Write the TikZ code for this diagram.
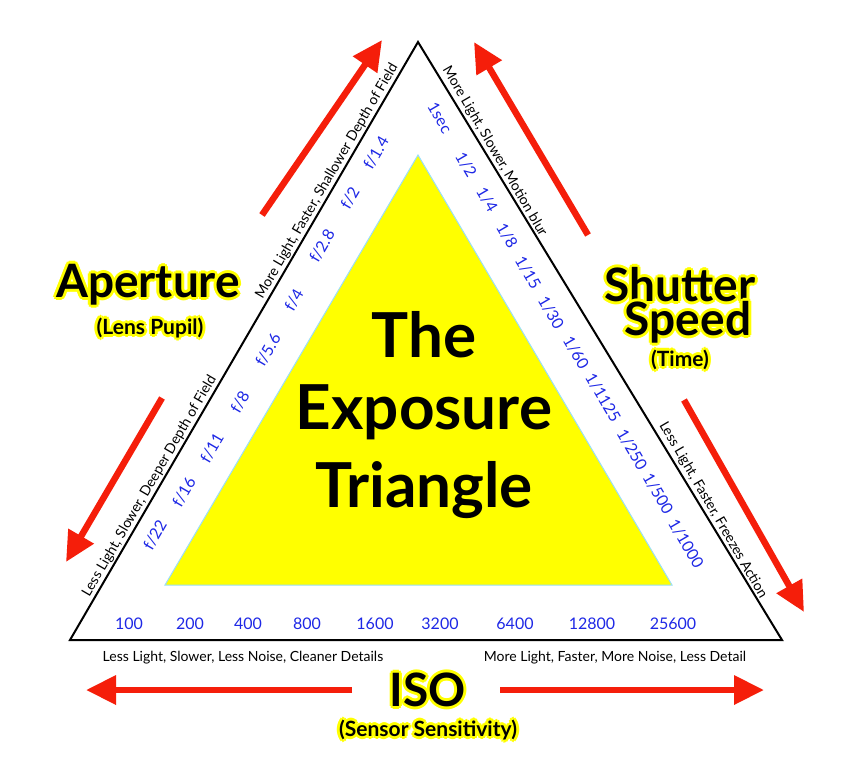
\documentclass[tikz,border=0pt]{standalone}
\usepackage{fontspec}
\setmainfont{Lato}
\usetikzlibrary{arrows.meta,calc}
\definecolor{tblue}{RGB}{30,40,230}
\definecolor{tyel}{RGB}{255,255,0}
\definecolor{tred}{RGB}{245,30,10}
\tikzset{
 side/.style={font=\fontsize{14}{14}\selectfont,inner sep=2pt},
 num/.style={text=tblue,font=\fontsize{16}{16}\selectfont},
 redarrow/.style={draw=tred,line width=6.5pt,-{Triangle[length=30pt,width=28pt]}},
}
\newcommand{\glowtext}[4]{% pos, name, size, text
 \foreach \dx/\dy in {-3/0,3/0,0/-3,0/3,-2/-2,2/2,-2/2,2/-2}
   \node[text=tyel,font=\bfseries\fontsize{#3}{#3}\selectfont] at ([shift={(\dx,\dy)}]#1) {#4};
 \node[font=\bfseries\fontsize{#3}{#3}\selectfont] (#2) at (#1) {#4};}
\begin{document}
\begin{tikzpicture}[x=1pt,y=-1pt]
\useasboundingbox (0,0) rectangle (854,774);
\fill[white] (0,0) rectangle (854,774);
\coordinate (A) at (418,42); \coordinate (B) at (70,640); \coordinate (C) at (782,640);
\draw[line width=2pt,fill=white] (A) -- (B) -- (C) -- cycle;
\fill[tyel,draw=cyan!40,line width=1pt] (418,155) -- (165,585) -- (672,585) -- cycle;
% side texts
\node[side,rotate=59.8,anchor=south] (s1) at ($(B)!0.76!(A)$) {More Light, Faster, Shallower Depth of Field};
\node[side,rotate=59.8,anchor=south] (s2) at ($(B)!0.25!(A)$) {Less Light, Slower, Deeper Depth of Field};
\node[side,rotate=-59.8,anchor=south] (s3) at ($(A)!0.19!(C)$) {More Light, Slower, Motion blur};
\node[side,rotate=-59.8,anchor=south] (s4) at ($(A)!0.79!(C)$) {Less Light, Faster, Freezes Action};
\node[side] (s5) at (243,658) {Less Light, Slower, Less Noise, Cleaner Details};
\node[side] (s6) at (615,658) {More Light, Faster, More Noise, Less Detail};
% aperture numbers
\foreach \t/\x/\y [count=\i] in {{f/22}/155/535,{f/16}/184/492,{f/11}/212/448,{f/8}/240/402,{f/5.6}/268/350,{f/4}/294/300,{f/2.8}/322/246,{f/2}/350/198,{f/1.4}/376/153}
 \node[num,rotate=59.8] (ap\i) at (\x,\y) {\t};
\foreach \t/\x/\y [count=\i] in {{1sec}/440/118,{1/2}/466/165,{1/4}/487/200,{1/8}/507/236,{1/15}/528/273,{1/30}/551/313,{1/60}/576/353,{1/1125}/603/398,{1/250}/632/450,{1/500}/658/494,{1/1000}/686/544}
 \node[num,rotate=-59.8] (sh\i) at (\x,\y) {\t};
\foreach \t/\x [count=\i] in {100/129,200/190,400/248,800/307,1600/375,3200/440,6400/515,12800/592,25600/673}
 \node[num] (iso\i) at (\x,624) {\t};
% arrows
\coordinate (a1s) at (262,215); \coordinate (a1e) at (382,40);
\coordinate (a2s) at (162,398); \coordinate (a2e) at (66,562);
\coordinate (a3s) at (588,235); \coordinate (a3e) at (474,42);
\coordinate (a4s) at (684,400); \coordinate (a4e) at (804,612);
\coordinate (a5s) at (352,690); \coordinate (a5e) at (86,690);
\coordinate (a6s) at (500,690); \coordinate (a6e) at (764,690);
\foreach \i in {1,...,6} \draw[redarrow] (a\i s) -- (a\i e);
% big labels
\glowtext{148,285}{ap}{46}{Aperture}
\glowtext{150,328}{lp}{21}{(Lens Pupil)}
\glowtext{680,285}{ss}{46}{Shutter}
\glowtext{688,322}{sp}{46}{Speed}
\glowtext{680,360}{tm}{21}{(Time)}
\glowtext{428,690}{iso}{46}{ISO}
\glowtext{428,730}{sens}{21}{(Sensor Sensitivity)}
\node[font=\bfseries\fontsize{62}{62}\selectfont] (t1) at (424,335) {The};
\node[font=\bfseries\fontsize{62}{62}\selectfont] (t2) at (424,412) {Exposure};
\node[font=\bfseries\fontsize{62}{62}\selectfont] (t3) at (424,490) {Triangle};
\end{tikzpicture}
\end{document}
